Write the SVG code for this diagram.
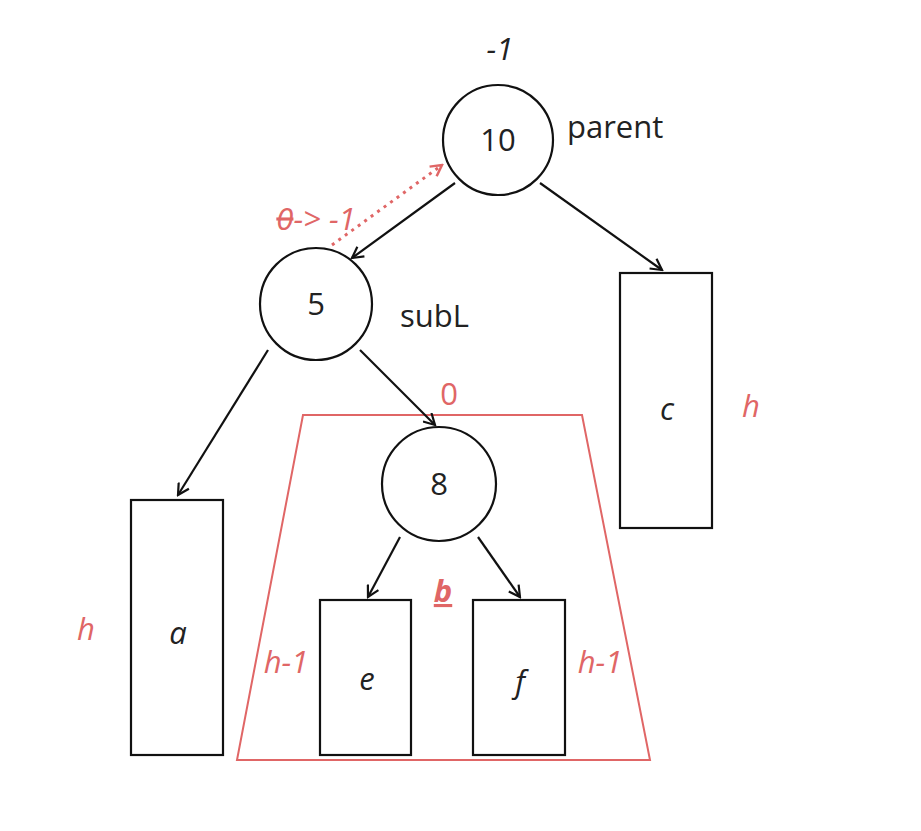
<svg xmlns="http://www.w3.org/2000/svg" width="921" height="831" viewBox="0 0 921 831">
<defs>
<marker id="ah" viewBox="0 0 14 14" refX="12" refY="7" markerWidth="14" markerHeight="14" markerUnits="userSpaceOnUse" orient="auto">
<polyline points="1,1 12,7 1,13" fill="none" stroke="#111" stroke-width="2.2"/>
</marker>
<marker id="ahr" viewBox="0 0 14 14" refX="12" refY="7" markerWidth="14" markerHeight="14" markerUnits="userSpaceOnUse" orient="auto">
<polyline points="1,1 12,7 1,13" fill="none" stroke="#e06666" stroke-width="2.5"/>
</marker>
</defs>
<style>
.n{fill:#fff;stroke:#111;stroke-width:2.2}
.t{font-family:"Open Sans","Liberation Sans",sans-serif;font-size:31px;fill:#222;text-anchor:middle}
.i{font-family:"Open Sans","Liberation Sans",sans-serif;font-size:31px;fill:#222;text-anchor:middle;font-style:italic}
.r{font-family:"Open Sans","Liberation Sans",sans-serif;font-size:31px;fill:#e06666;text-anchor:middle;font-style:italic}
.e{stroke:#111;stroke-width:2.2;fill:none;marker-end:url(#ah)}
</style>
<rect width="921" height="831" fill="#fff"/>
<polygon id="subtree-b" points="303,415 582,415 650,760 237,760" fill="none" stroke="#e06666" stroke-width="2"/>
<g id="connectors">
<line class="e" x1="455" y1="183" x2="352" y2="258"/>
<line class="e" x1="540" y1="183" x2="662" y2="270"/>
<line class="e" x1="268" y1="350" x2="178" y2="495"/>
<line class="e" x1="360" y1="350" x2="435" y2="425"/>
<line class="e" x1="400" y1="537" x2="368" y2="597"/>
<line class="e" x1="478" y1="537" x2="520" y2="597"/>
<line x1="332" y1="245" x2="442" y2="165" stroke="#e06666" stroke-width="3" stroke-dasharray="3,5" fill="none" marker-end="url(#ahr)"/>
</g>
<g id="node-10">
<circle class="n" cx="498" cy="140" r="55"/>
<text class="t" x="498" y="151">10</text>
<text class="i" x="500" y="60" font-size="28">-1</text>
<text class="t" x="567" y="138" font-size="33" style="text-anchor:start">parent</text>
</g>
<g id="node-5">
<circle class="n" cx="316" cy="304" r="56"/>
<text class="t" x="316" y="315">5</text>
<text class="t" x="400" y="327" font-size="33" style="text-anchor:start">subL</text>
</g>
<g id="node-8">
<circle class="n" cx="439" cy="484" r="57"/>
<text class="t" x="439" y="495">8</text>
</g>
<g id="node-c">
<rect class="n" x="620" y="273" width="92" height="255"/>
<text class="i" x="667" y="420">c</text>
</g>
<g id="node-a">
<rect class="n" x="131" y="500" width="92" height="255"/>
<text class="i" x="178" y="644">a</text>
</g>
<g id="node-e">
<rect class="n" x="320" y="600" width="91" height="155"/>
<text class="i" x="367" y="690">e</text>
</g>
<g id="node-f">
<rect class="n" x="473" y="600" width="92" height="155"/>
<text class="i" x="520" y="693">f</text>
</g>
<g id="labels">
<text class="r" x="449" y="405" style="font-style:normal">0</text>
<text class="r" x="443" y="602" font-weight="bold" text-decoration="underline">b</text>
<text class="r" x="86" y="640">h</text>
<text class="r" x="751" y="417">h</text>
<text class="r" x="286" y="673">h-1</text>
<text class="r" x="600" y="673">h-1</text>
<text class="r" x="316" y="230" font-size="30"><tspan text-decoration="line-through">0</tspan>-&gt; -1</text>
</g>
</svg>
